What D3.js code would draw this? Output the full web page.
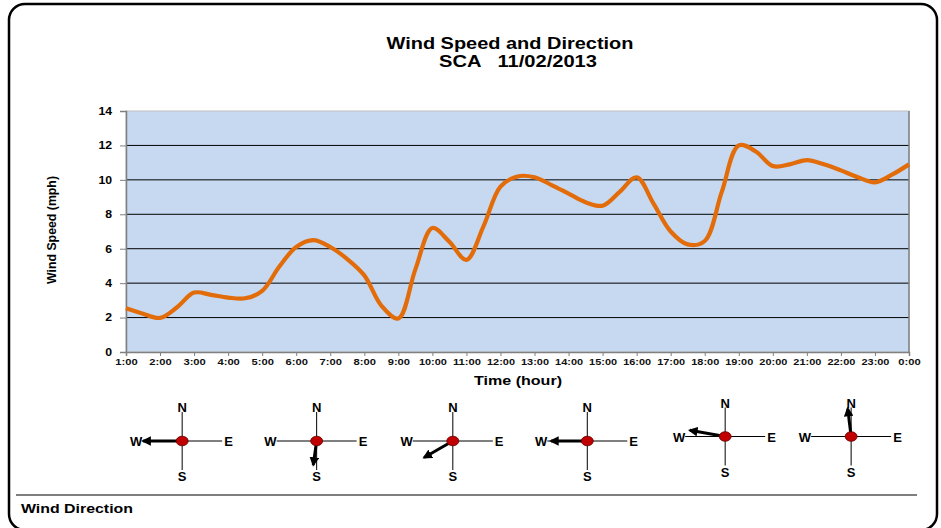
<!DOCTYPE html>
<html><head><meta charset="utf-8">
<script src="https://cdn.jsdelivr.net/npm/d3@7"></script>
<style>
html,body{margin:0;padding:0;background:#fff;}
svg{display:block;}
text{font-family:"Liberation Sans",Arial,sans-serif;}
</style></head>
<body>
<svg id="chart" width="941" height="528"></svg>
<script>
// ---- data ----
const hourTicks = [1,2,3,4,5,6,7,8,9,10,11,12,13,14,15,16,17,18,19,20,21,22,23,24];
const tickLabels = ["1:00","2:00","3:00","4:00","5:00","6:00","7:00","8:00","9:00","10:00","11:00","12:00","13:00","14:00","15:00","16:00","17:00","18:00","19:00","20:00","21:00","22:00","23:00","0:00"];
const times = [1,1.5,2,2.5,3,3.5,4,4.5,5,5.5,6,6.5,7,7.5,8,8.5,9,9.5,10,10.5,11,11.5,12,12.5,13,13.5,14,14.5,15,15.5,16,16.5,17,17.5,18,18.5,19,19.5,20,20.5,21,21.5,22,22.5,23,23.5,24];
const speeds = [2.54,2.22,1.98,2.6,3.45,3.32,3.16,3.12,3.55,4.95,6.1,6.5,6.1,5.4,4.45,2.7,1.95,4.8,7.2,6.4,5.35,7.3,9.6,10.2,10.15,9.7,9.2,8.7,8.5,9.3,10.15,8.6,7.0,6.25,6.45,9.3,12.0,11.65,10.8,10.9,11.15,10.9,10.55,10.15,9.85,10.3,10.9];
const yTicks = [0,2,4,6,8,10,12,14];
const dirHours = [2.65, 6.6, 10.6, 14.55, 18.6, 22.3];      // where each direction reading sits on the time axis
const windDirections = [270, 188, 240, 270, 280, 353];   // bearing the arrow points to (deg)
const windStrength = [1.0, 0.62, 0.85, 0.93, 0.92, 0.72]; // relative arrow length

// ---- layout ----
const svg = d3.select("#chart");
const M = {left:126, right:909, top:111, bottom:352};
const x = d3.scaleLinear().domain([1,24]).range([M.left, M.right]);
const y = d3.scaleLinear().domain([0,14]).range([M.bottom, M.top]);
const FONT = "'Liberation Sans', Arial, sans-serif";

// outer frame
svg.append("rect").attr("x",9).attr("y",4).attr("width",928).attr("height",526)
  .attr("rx",16).attr("fill","none").attr("stroke","#000").attr("stroke-width",2.5);

function stretched(sel, len){ return sel.attr("textLength",len).attr("lengthAdjust","spacingAndGlyphs"); }

// titles
stretched(svg.append("text").attr("x",510).attr("y",49).attr("text-anchor","middle")
  .attr("font-size",16.5).attr("font-weight","bold").text("Wind Speed and Direction"), 247);
stretched(svg.append("text").attr("x",518).attr("y",67).attr("text-anchor","middle")
  .attr("font-size",16.5).attr("font-weight","bold").attr("xml:space","preserve").text("SCA   11/02/2013"), 158);

// plot background
svg.append("rect").attr("x",M.left).attr("y",M.top).attr("width",M.right-M.left).attr("height",M.bottom-M.top)
  .attr("fill","#C6D9F1").attr("stroke","#BFBFBF").attr("stroke-width",1);

// gridlines
svg.append("g").selectAll("line").data(yTicks.filter(d=>d>0 && d<14)).join("line")
  .attr("x1",M.left).attr("x2",M.right).attr("y1",d=>y(d)).attr("y2",d=>y(d))
  .attr("stroke","#000").attr("stroke-width",1);
svg.append("line").attr("x1",M.right).attr("x2",M.right).attr("y1",M.top).attr("y2",M.bottom)
  .attr("stroke","#808080").attr("stroke-width",1.5);

// y axis
const yAxis = svg.append("g").attr("transform",`translate(${M.left},0)`)
  .call(d3.axisLeft(y).tickValues(yTicks).tickSize(6).tickPadding(8).tickFormat(d3.format("d")));
yAxis.select(".domain").attr("stroke","#808080").attr("stroke-width",1.5);
yAxis.selectAll(".tick line").attr("stroke","#808080");
yAxis.selectAll("text").attr("font-family",FONT).attr("font-size",10.5).attr("font-weight","bold").attr("fill","#000")
  .each(function(d){ const s=String(d); stretched(d3.select(this), 6.8*s.length); });

// x axis
const xAxis = svg.append("g").attr("transform",`translate(0,${M.bottom})`)
  .call(d3.axisBottom(x).tickValues(hourTicks).tickSize(4).tickPadding(3).tickFormat((d,i)=>tickLabels[i]));
xAxis.select(".domain").attr("stroke","#808080").attr("stroke-width",1.5);
xAxis.selectAll(".tick line").attr("stroke","#808080");
xAxis.selectAll("text").attr("font-family",FONT).attr("font-size",8.5).attr("font-weight","bold").attr("fill","#111")
  .each(function(d,i){ stretched(d3.select(this), 5.6*tickLabels[i].length); });

// axis titles
stretched(svg.append("text").attr("transform","translate(56,230) rotate(-90)").attr("text-anchor","middle")
  .attr("font-size",13).attr("font-weight","bold").text("Wind Speed (mph)"), 108);
stretched(svg.append("text").attr("x",518).attr("y",385).attr("text-anchor","middle")
  .attr("font-size",13.5).attr("font-weight","bold").text("Time (hour)"), 88);

// line
const pts = times.map((t,i)=>[t,speeds[i]]);
svg.append("path").datum(pts)
  .attr("d", d3.line().x(d=>x(d[0])).y(d=>y(d[1])).curve(d3.curveCatmullRom.alpha(0.5)))
  .attr("fill","none").attr("stroke","#E36C0A").attr("stroke-width",4.2).attr("stroke-linejoin","round");

// compasses
svg.append("defs").append("marker").attr("id","ah").attr("viewBox","0 0 10 10")
  .attr("refX",8).attr("refY",5).attr("markerWidth",3.2).attr("markerHeight",3.2)
  .attr("orient","auto").append("path").attr("d","M0,0 L10,5 L0,10 z").attr("fill","#000");

const armH = 40, armV = 29, arrowMax = 39;
windDirections.forEach((dir,i)=>{
  const g = svg.append("g").attr("transform",`translate(${x(dirHours[i])},${i<4?441:436.5})`);
  g.append("line").attr("x1",-armH).attr("x2",armH).attr("y1",0).attr("y2",0).attr("stroke","#000").attr("stroke-width",1);
  g.append("line").attr("x1",0).attr("x2",0).attr("y1",-armV).attr("y2",armV).attr("stroke","#000").attr("stroke-width",1);
  const lab = (t,xx,yy,anchor)=>g.append("text").attr("x",xx).attr("y",yy).attr("text-anchor",anchor)
     .attr("font-size",13).attr("font-weight","bold").text(t);
  lab("N",0,-29,"middle"); lab("S",0,40,"middle"); lab("W",-armH,5,"end"); lab("E",armH+2,5,"start");
  const rad = dir*Math.PI/180, L = arrowMax*windStrength[i];
  g.append("line").attr("x1",0).attr("y1",0).attr("x2",L*Math.sin(rad)).attr("y2",-L*Math.cos(rad))
    .attr("stroke","#000").attr("stroke-width",3).attr("marker-end","url(#ah)");
  g.append("ellipse").attr("rx",6).attr("ry",4.8).attr("fill","#C00000").attr("stroke","#600").attr("stroke-width",0.8);
});

// bottom rule and caption
svg.append("line").attr("x1",16).attr("x2",917).attr("y1",495).attr("y2",495).attr("stroke","#000").attr("stroke-width",1.2);
stretched(svg.append("text").attr("x",21).attr("y",513).attr("font-size",13.5).attr("font-weight","bold").text("Wind Direction"), 112);
</script>
</body></html>
